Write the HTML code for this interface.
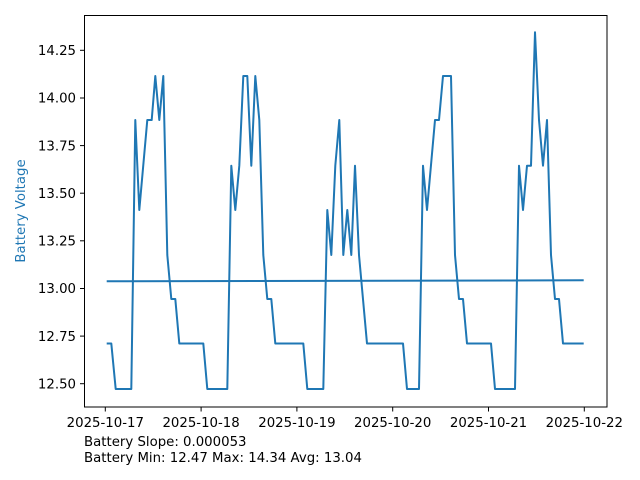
<!DOCTYPE html>
<html><head><meta charset="utf-8"><style>
html,body{margin:0;padding:0;background:#fff;}
svg{display:block;font-family:"DejaVu Sans","Liberation Sans",sans-serif;}
</style></head><body>
<svg width="640" height="480" viewBox="0 0 640 480" xmlns="http://www.w3.org/2000/svg">
<rect width="640" height="480" fill="#fff"/>
<g fill="none" stroke="#1f77b4" stroke-width="2" stroke-linejoin="round">
<polyline points="106.7,281.3 583.7,280.3"/>
<polyline points="106.7,343.5 111.3,343.5 115.7,389 131.3,389 135.3,120 139.3,210 147.3,120 151.7,120 155.3,76 159.3,120 163.3,76 167.3,255 171.3,299 175.3,299 179.3,343.5 203.3,343.5 207.3,389 227.3,389 231.3,165.7 235.3,210 239.3,165.7 243.3,76 247.3,76 251.3,165.7 255.3,76 259.3,120 263.3,255 267.3,299 271.3,299 275.3,343.5 303.3,343.5 307.3,389 323.3,389 327.3,210 331.3,255 335.3,165.7 339.3,120 343.3,255 347.3,210 351.3,255 355,165.7 359,255 367,343.5 403,343.5 407,389 419,389 423,165.7 427,210 435,120 439,120 443,76 451,76 455,255 459,299 463,299 467,343.5 491,343.5 495,389 515,389 519,165.7 523,210 527,165.7 531,165.7 535,32.3 539,120 543,165.7 547,120 551,255 555,299 559,299 563,343.5 583.7,343.5"/>
</g>
<rect x="84.5" y="15.5" width="522.5" height="391.5" fill="none" stroke="#000" stroke-width="1"/>
<g stroke="#000" stroke-width="1">
<line x1="80" y1="50.3" x2="84.5" y2="50.3"/><line x1="80" y1="98" x2="84.5" y2="98"/><line x1="80" y1="145.6" x2="84.5" y2="145.6"/><line x1="80" y1="193.2" x2="84.5" y2="193.2"/><line x1="80" y1="240.8" x2="84.5" y2="240.8"/><line x1="80" y1="288.5" x2="84.5" y2="288.5"/><line x1="80" y1="336.1" x2="84.5" y2="336.1"/><line x1="80" y1="383.7" x2="84.5" y2="383.7"/>
<line x1="105.3" y1="407" x2="105.3" y2="411.5"/><line x1="201.1" y1="407" x2="201.1" y2="411.5"/><line x1="296.9" y1="407" x2="296.9" y2="411.5"/><line x1="392.7" y1="407" x2="392.7" y2="411.5"/><line x1="488.5" y1="407" x2="488.5" y2="411.5"/><line x1="584.3" y1="407" x2="584.3" y2="411.5"/>
</g>
<g font-size="13.3" fill="#000" text-anchor="end">
<text x="76" y="55">14.25</text><text x="76" y="102.7">14.00</text><text x="76" y="150.3">13.75</text><text x="76" y="197.9">13.50</text><text x="76" y="245.5">13.25</text><text x="76" y="293.2">13.00</text><text x="76" y="340.8">12.75</text><text x="76" y="388.4">12.50</text>
</g>
<g font-size="13.3" fill="#000" text-anchor="middle">
<text x="105.3" y="427">2025-10-17</text><text x="201.1" y="427">2025-10-18</text><text x="296.9" y="427">2025-10-19</text><text x="392.7" y="427">2025-10-20</text><text x="488.5" y="427">2025-10-21</text><text x="584.3" y="427">2025-10-22</text>
</g>
<text x="25" y="211" font-size="13.3" fill="#1f77b4" text-anchor="middle" transform="rotate(-90 25 211)">Battery Voltage</text>
<text x="84" y="446" font-size="13.3" fill="#000">Battery Slope: 0.000053</text>
<text x="84" y="462" font-size="13.3" fill="#000">Battery Min: 12.47 Max: 14.34 Avg: 13.04</text>
</svg>
</body></html>
